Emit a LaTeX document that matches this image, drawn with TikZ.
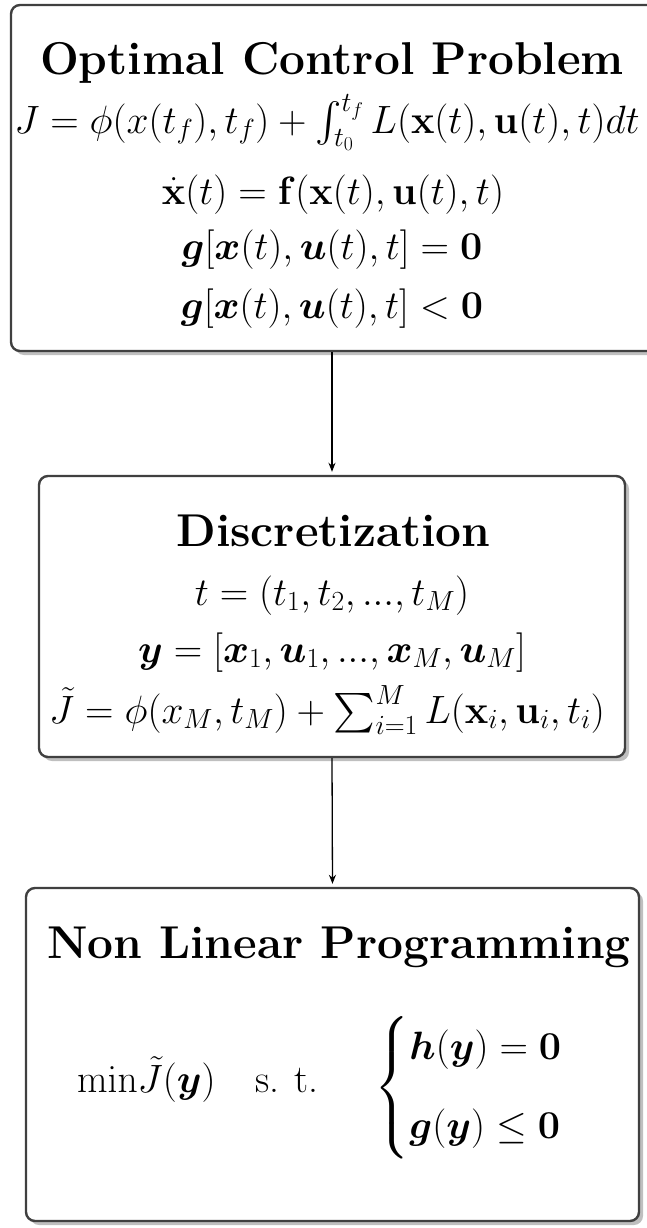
\RequirePackage{fix-cm}
\documentclass[tikz,border=0pt]{standalone}
\usepackage{amsmath,amssymb}
\usetikzlibrary{arrows.meta,shadows}
\begin{document}
\begin{tikzpicture}[x=1pt,y=-1pt,
  box/.style={draw=black!75, line width=2.4pt, rounded corners=9pt, fill=white, inner sep=0pt,
    drop shadow={shadow xshift=4pt, shadow yshift=-4pt, fill=black!25, opacity=1}},
  ttl/.style={font=\fontsize{46}{55}\selectfont\bfseries, anchor=base, inner sep=0pt},
  eq/.style={font=\fontsize{39.5}{47.4}\selectfont, anchor=base, inner sep=0pt},
  arr/.style={-{Stealth[length=9pt,width=7pt]}, line width=1.3pt, shorten >=3pt}]
\useasboundingbox (0,0) rectangle (647,1228);
% boxes
\node[box, minimum width=652pt, minimum height=346pt] (b1) at (337,178) {};
\node[box, minimum width=586pt, minimum height=281pt] (b2) at (332,616.5) {};
\node[box, minimum width=613pt, minimum height=333pt] (b3) at (332.5,1054.5) {};
% connectors
\draw[arr] (b2.north |- b1.south) -- (b2.north);
\draw[arr] (b2.south) -- (b3.north);
% box 1 text
\node[ttl] (t1) at (332,75) {Optimal Control Problem};
\node[eq] (e11) at (327,133) {$J=\phi(x(t_f),t_f)+\int_{t_0}^{t_f}L(\mathbf{x}(t),\mathbf{u}(t),t)dt$};
\node[eq] (e12) at (333,204) {$\dot{\mathbf{x}}(t)=\mathbf{f}(\mathbf{x}(t),\mathbf{u}(t),t)$};
\node[eq] (e13) at (332,259) {$\boldsymbol{g}[\boldsymbol{x}(t),\boldsymbol{u}(t),t]=\mathbf{0}$};
\node[eq] (e14) at (332,318) {$\boldsymbol{g}[\boldsymbol{x}(t),\boldsymbol{u}(t),t]<\mathbf{0}$};
% box 2 text
\node[ttl] (t2) at (333.5,546) {Discretization};
\node[eq] (e21) at (332,605) {$t=(t_1,t_2,...,t_M)$};
\node[eq] (e22) at (332,662) {$\boldsymbol{y}=[\boldsymbol{x}_1,\boldsymbol{u}_1,...,\boldsymbol{x}_M,\boldsymbol{u}_M]$};
\node[eq] (e23) at (327,723) {$\tilde{J}=\phi(x_M,t_M)+\sum_{i=1}^{M}L(\mathbf{x}_i,\mathbf{u}_i,t_i)$};
% box 3 text
\node[ttl] (t3) at (339,958) {Non Linear Programming};
\node[eq, anchor=base west] (e31) at (77,1092) {$\mathrm{min}\tilde{J}(\boldsymbol{y})\quad\text{s. t.}\quad\hspace{16pt}
  \raisebox{-5.5pt}{$\begin{cases}\boldsymbol{h}(\boldsymbol{y})=\mathbf{0}\\[22.6pt]\boldsymbol{g}(\boldsymbol{y})\le\mathbf{0}\end{cases}$}$};
\end{tikzpicture}
\end{document}
